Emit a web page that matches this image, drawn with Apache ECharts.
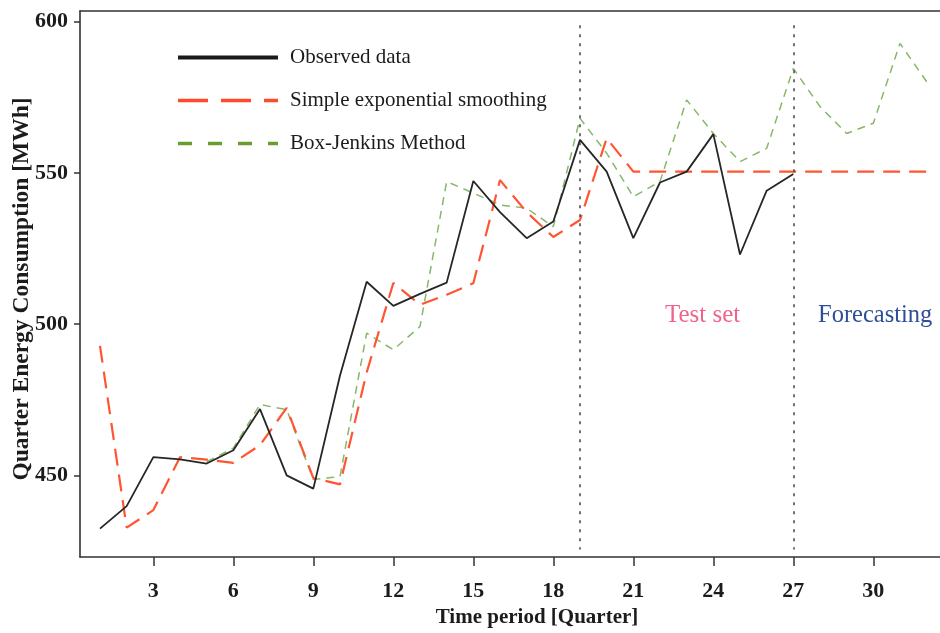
<!DOCTYPE html>
<html>
<head>
<meta charset="utf-8">
<script src="https://cdn.jsdelivr.net/npm/echarts@6/dist/echarts.min.js"></script>
<style>
  html, body { margin: 0; padding: 0; background: #fff; }
  #chart { width: 940px; height: 633px; }
</style>
</head>
<body>
<div id="chart"></div>
<script>
// Quarter index for every point on the time axis
const quarters = [1,2,3,4,5,6,7,8,9,10,11,12,13,14,15,16,17,18,19,20,21,22,23,24,25,26,27,28,29,30,31,32];

// Observed quarterly consumption (MWh), quarters 1..27
const observed = [432.4, 439.8, 456.0, 455.3, 453.9, 458.3, 471.9, 450.0, 445.6, 483.0,
                  514.0, 506.0, 510.0, 513.7, 547.3, 537.0, 528.4, 533.9, 560.9, 550.4,
                  528.4, 546.8, 550.4, 562.8, 523.0, 544.1, 549.6];

// Simple exponential smoothing fit and forecast, quarters 1..32
const ses = [492.8, 432.7, 438.5, 456.0, 455.2, 454.1, 460.0, 472.3, 449.1, 447.0,
             484.0, 513.6, 506.4, 509.7, 513.5, 547.6, 537.0, 528.8, 534.4, 561.4,
             550.4, 550.4, 550.4, 550.4, 550.4, 550.4, 550.4, 550.4, 550.4, 550.4,
             550.4, 550.4];

// Box-Jenkins fit and forecast, quarters 1..32 (no value for the first quarters)
const boxJenkins = [null, null, null, null, 454.5, 459.0, 473.4, 471.7, 448.6, 449.6,
                    497.0, 491.5, 499.2, 547.1, 543.3, 539.4, 538.3, 532.2, 568.0, 556.5,
                    542.1, 547.1, 574.1, 563.0, 553.7, 558.1, 584.5, 571.9, 563.0, 566.4,
                    592.8, 580.1];

// Axis ticks and the two period boundaries
const xTicks = [3, 6, 9, 12, 15, 18, 21, 24, 27, 30];
const yTicks = [450, 500, 550, 600];
const boundaries = [19, 27];
const boundarySpan = [598.8, 425.5];

const seriesNames = ['Observed data', 'Simple exponential smoothing', 'Box-Jenkins Method'];

function pairs(values) {
  return values.map((v, i) => [quarters[i], v]);
}

const serif = '"Liberation Serif", "DejaVu Serif", serif';
const ink = '#1c1c1c';

const chart = echarts.init(document.getElementById('chart'), null, { renderer: 'canvas' });

// legend entries show only the line, no marker
const noMarker = { color: 'transparent', borderWidth: 0, opacity: 0 };

chart.setOption({
  animation: false,
  backgroundColor: '#ffffff',
  grid: { left: 80, top: 11, right: 0, bottom: 76, containLabel: false, outerBoundsMode: 'none' },
  legend: {
    orient: 'vertical',
    left: 171,
    top: 42,
    padding: 5,
    itemWidth: 100,
    itemHeight: 16,
    itemGap: 22,
    selectedMode: false,
    textStyle: { fontFamily: serif, fontSize: 21, color: ink, padding: [0, 0, 0, 7] },
    data: [
      { name: seriesNames[0], itemStyle: noMarker, lineStyle: { color: '#1a1a1a', width: 4, type: 'solid' } },
      { name: seriesNames[1], itemStyle: noMarker, lineStyle: { color: '#ff4a2a', width: 3.5, type: [30, 13] } },
      { name: seriesNames[2], itemStyle: noMarker, lineStyle: { color: '#6a9e2c', width: 3.5, type: [14, 16] } }
    ]
  },
  xAxis: [
    {
      type: 'value',
      min: 0.25,
      max: 32.5,
      name: 'Time period [Quarter]',
      nameLocation: 'middle',
      nameGap: 50,
      nameTextStyle: { fontFamily: serif, fontSize: 21, fontWeight: 'bold', color: ink, padding: [0, 0, 0, 54] },
      axisLine: { show: true, onZero: false, lineStyle: { color: '#333', width: 1.6 } },
      axisTick: { show: true, length: 9, customValues: xTicks, lineStyle: { color: '#333', width: 1.5 } },
      axisLabel: { customValues: xTicks, margin: 23, fontFamily: serif, fontSize: 22, fontWeight: 'bold', color: ink },
      splitLine: { show: false }
    },
    {
      type: 'value',
      position: 'top',
      min: 0.25,
      max: 32.5,
      axisLine: { show: true, onZero: false, lineStyle: { color: '#333', width: 1.6 } },
      axisTick: { show: false },
      axisLabel: { show: false },
      splitLine: { show: false }
    }
  ],
  yAxis: {
    type: 'value',
    min: 423,
    max: 603.5,
    name: 'Quarter Energy Consumption [MWh]',
    nameLocation: 'middle',
    nameGap: 46,
    nameMoveOverlap: false,
    nameTextStyle: { fontFamily: serif, fontSize: 23.5, fontWeight: 'bold', color: ink, padding: [0, 10, 0, 0] },
    axisLine: { show: true, onZero: false, lineStyle: { color: '#333', width: 1.6 } },
    axisTick: { show: true, length: 6, customValues: yTicks, lineStyle: { color: '#333', width: 1.5 } },
    axisLabel: { customValues: yTicks, margin: 12, fontFamily: serif, fontSize: 22, fontWeight: 'bold', color: ink },
    splitLine: { show: false }
  },
  series: [
    {
      name: seriesNames[0],
      type: 'line',
      data: pairs(observed),
      symbol: 'none',
      z: 4,
      lineStyle: { color: '#262626', width: 1.8 },
      itemStyle: { color: '#1a1a1a' },
      markLine: {
        silent: true,
        symbol: 'none',
        label: { show: false },
        lineStyle: { color: '#444', width: 1.5, type: [3, 6] },
        data: boundaries.map(b => [{ coord: [b, boundarySpan[0]] }, { coord: [b, boundarySpan[1]] }])
      }
    },
    {
      name: seriesNames[1],
      type: 'line',
      data: pairs(ses),
      symbol: 'none',
      z: 3,
      lineStyle: { color: '#ff5533', width: 2.2, type: [17, 9] },
      itemStyle: { color: '#ff4a2a' }
    },
    {
      name: seriesNames[2],
      type: 'line',
      data: pairs(boxJenkins),
      symbol: 'none',
      connectNulls: false,
      z: 2,
      lineStyle: { color: '#86b86a', width: 1.5, type: [8, 6] },
      itemStyle: { color: '#6a9e2c' }
    }
  ],
  graphic: [
    {
      type: 'text',
      left: 665,
      top: 303,
      style: { text: 'Test set', fontFamily: serif, fontSize: 25, fill: '#f0648a' }
    },
    {
      type: 'text',
      left: 818,
      top: 303,
      style: { text: 'Forecasting', fontFamily: serif, fontSize: 24.5, fill: '#2e4e96' }
    }
  ]
});
</script>
</body>
</html>
